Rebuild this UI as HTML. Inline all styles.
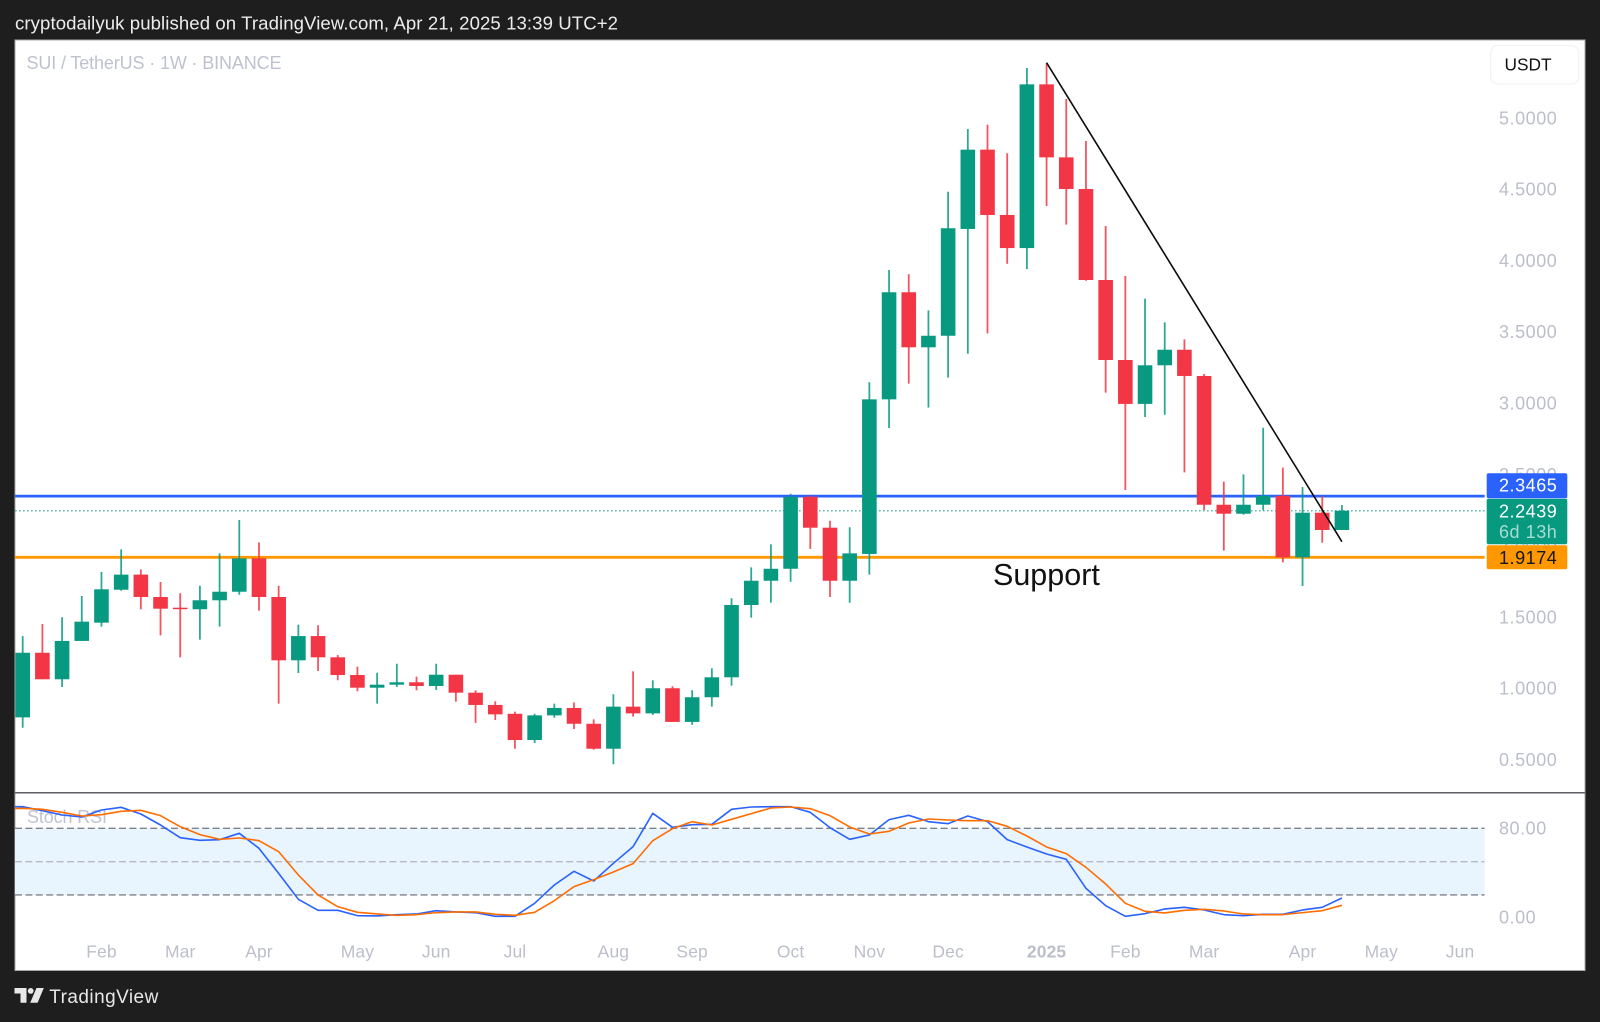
<!DOCTYPE html>
<html lang="en">
<head>
<meta charset="utf-8">
<title>SUI / TetherUS weekly chart</title>
<style>
  html, body { margin: 0; padding: 0; background: #1e1e1e; }
  svg { display: block; font-family: "Liberation Sans", sans-serif; }
  .tick { fill: #bcbfca; font-size: 18px; letter-spacing: .55px; }
  .time { fill: #bcbfca; font-size: 17.5px; letter-spacing: .1px; text-anchor: middle; }
</style>
</head>
<body>
<svg id="chart" width="1600" height="1022" viewBox="0 0 1600 1022" xmlns="http://www.w3.org/2000/svg">
  <defs>
    <clipPath id="plot-clip"><rect x="15" y="40" width="1470" height="931"></rect></clipPath>
  </defs>
  <rect x="0" y="0" width="1600" height="1022" fill="#1e1e1e"></rect>
  <text x="15" y="29.5" font-size="18.6" fill="#ececec" textLength="603" lengthAdjust="spacing">cryptodailyuk published on TradingView.com, Apr 21, 2025 13:39 UTC+2</text>
  <rect x="15" y="40" width="1570" height="930.5" fill="#ffffff" stroke="#a9a9a9" stroke-width="1"></rect>
  <line x1="15" x2="1585" y1="792.7" y2="792.7" stroke="#5d5f64" stroke-width="1.5"></line>
  <text x="26.5" y="69" font-size="18" fill="#bfc2ce" textLength="255" lengthAdjust="spacing">SUI / TetherUS · 1W · BINANCE</text>
  <g id="price-ticks"></g>
  <g id="stoch-pane" clip-path="url(#plot-clip)">
    <rect id="stoch-band" fill="#e8f4fe"></rect>
    <line id="stoch-upper" stroke="#7f828c" stroke-width="1.4" stroke-dasharray="7 3.4"></line>
    <line id="stoch-middle" stroke="#b6b9c1" stroke-width="1.4" stroke-dasharray="7 3.4"></line>
    <line id="stoch-lower" stroke="#7f828c" stroke-width="1.4" stroke-dasharray="7 3.4"></line>
    <text x="27" y="823" font-size="18" fill="#bfc2ce" textLength="80" lengthAdjust="spacing">Stoch RSI</text>
    <polyline id="stoch-k-line" fill="none" stroke="#2962ff" stroke-width="1.6" stroke-linejoin="round"></polyline>
    <polyline id="stoch-d-line" fill="none" stroke="#ff6d00" stroke-width="1.6" stroke-linejoin="round"></polyline>
  </g>
  <g id="stoch-ticks"></g>
  <g id="time-ticks"></g>
  <line id="resistance-line" stroke="#2962ff" stroke-width="2.8"></line>
  <line id="support-line" stroke="#ff9800" stroke-width="2.8"></line>
  <line id="last-price-line" stroke="#089981" stroke-opacity=".65" stroke-width="1.4" stroke-dasharray="1.6 2.4"></line>
  <g id="candles" clip-path="url(#plot-clip)"></g>
  <line id="trend-line" stroke="#0b0b0b" stroke-width="1.6"></line>
  <text x="993" y="585" font-size="30.5" fill="#111111">Support</text>
  <rect x="1490.7" y="45.5" width="88" height="38.5" rx="7" fill="#ffffff" stroke="#f0f2f7" stroke-width="1.2"></rect>
  <text x="1504.5" y="70.5" font-size="17.3" fill="#111111">USDT</text>
  <rect x="1486.7" y="473.3" width="80.6" height="25" rx="2" fill="#2962ff"></rect>
  <text id="resistance-text" class="tick" x="1499" y="491.7" style="fill:#ffffff"></text>
  <rect x="1486.7" y="498.7" width="80.6" height="45.6" rx="2" fill="#089981"></rect>
  <text id="last-price-text" class="tick" x="1499" y="517.3" style="fill:#ffffff"></text>
  <text class="tick" x="1499" y="538" style="fill:#a9dcd1">6d 13h</text>
  <rect x="1486.7" y="545.3" width="80.6" height="24" rx="2" fill="#ff9800"></rect>
  <text id="support-text" class="tick" x="1499" y="564" style="fill:#131722"></text>
  <g>
    <polygon points="14.5,988 26.5,988 26.5,1002.7 20.5,1002.7 20.5,993.5 14.5,993.5" fill="#e8e8e8"></polygon>
    <circle cx="30.7" cy="990.9" r="2.9" fill="#e8e8e8"></circle>
    <polygon points="36.5,988 43.8,988 37.6,1002.7 30.2,1002.7" fill="#e8e8e8"></polygon>
  </g>
  <text x="49.3" y="1003" font-size="19" fill="#e8e8e8" textLength="109" lengthAdjust="spacing">TradingView</text>
</svg>
<script>
const opens = [.795,1.248,1.062,1.331,1.459,1.690,1.796,1.639,1.564,1.553,1.616,1.676,1.910,1.639,1.195,1.365,1.216,1.092,1.003,1.024,1.041,1.015,1.094,.968,.882,.820,.636,.809,.861,.750,.575,.870,.823,.999,.763,.936,1.076,1.583,1.753,1.837,2.342,2.125,1.753,1.941,3.025,3.776,3.390,3.471,4.220,4.776,4.318,4.086,5.234,4.722,4.500,3.862,3.301,2.993,3.264,3.373,3.189,2.286,2.223,2.286,2.349,1.917,2.230,2.109];
const highs = [1.365,1.450,1.497,1.646,1.815,1.973,1.833,1.744,1.665,1.718,1.945,2.179,2.022,1.718,1.445,1.441,1.232,1.150,1.108,1.171,1.080,1.171,1.094,.985,.908,.835,.820,.891,.900,.781,.957,1.118,1.055,1.013,.985,1.139,1.630,1.847,2.008,2.363,2.352,2.174,2.128,3.145,3.932,3.902,3.649,4.481,4.921,4.951,4.751,5.349,5.384,5.131,4.837,4.241,3.890,3.731,3.565,3.446,3.203,2.448,2.499,2.826,2.546,2.410,2.349,2.284];
const lows = [.722,1.062,1.008,1.331,1.431,1.683,1.553,1.370,1.216,1.340,1.431,1.655,1.543,.891,1.106,1.120,1.055,.978,.891,1.008,.985,.987,.905,.756,.776,.575,.615,.792,.713,.568,.466,.800,.812,.763,.743,.870,1.017,1.494,1.599,1.746,1.976,1.639,1.599,1.796,2.824,3.135,2.967,3.177,3.345,3.488,3.976,3.939,4.381,4.250,3.857,3.072,2.389,2.901,2.917,2.513,2.249,1.964,2.216,2.247,1.882,1.716,2.020,2.109];
const closes = [1.248,1.062,1.331,1.466,1.693,1.796,1.639,1.557,1.557,1.616,1.676,1.910,1.639,1.195,1.365,1.216,1.092,1.003,1.024,1.041,1.015,1.094,.968,.882,.816,.636,.809,.861,.750,.575,.870,.823,.999,.763,.936,1.076,1.583,1.753,1.837,2.342,2.125,1.753,1.945,3.025,3.776,3.390,3.471,4.225,4.776,4.318,4.086,5.234,4.722,4.500,3.862,3.301,2.993,3.264,3.373,3.189,2.286,2.223,2.286,2.349,1.917,2.230,2.109,2.244];

// Stochastic RSI: the first value belongs to the bar just before the visible window.
const stochK = [99.5,99.5,95.9,92,90.2,96.5,98.9,92.9,83,71.6,69.2,69.8,75.5,62,39.5,16.1,6.2,6.2,1.4,1.1,2.3,2.9,5.9,4.7,4.1,.8,.8,12.5,29,41.3,32.6,48.5,63.5,93.5,80.9,83.3,83.6,97.1,99.2,99.5,99.5,94.4,80.6,70.1,74,87.8,91.7,86,84.2,91.1,86,69.8,63.2,56.9,52.1,26,10.4,.8,3.2,7.4,8.9,6.5,2.3,1.4,2.6,2.6,6.5,8.9,17.3];
const stochD = [97.4,98,97.1,94.4,91.1,92.3,95.3,96.2,91.4,81.5,74.3,70.1,71.3,68.9,59,38,20,9.5,4.4,2.9,1.7,2.3,4.1,4.7,4.7,2.6,1.7,4.4,14.9,27.5,33.8,40.7,48.2,68.9,79.7,86,83,88.1,93.2,98.3,99.2,97.7,91.4,81.2,74.9,77.3,84.8,88.4,87.5,86.9,86.9,81.8,73.1,63.2,57.2,44.9,29.9,12.5,5.3,3.8,6.2,7.1,5.6,2.9,2.3,2.3,4.1,5.9,10.7];

const priceTicks = [5, 4.5, 4, 3.5, 3, 2.5, 2, 1.5, 1, 0.5];
const stochTicks = [80, 0];
const stochBands = [80, 50, 20];
const timeLabels = ["Feb","Mar","Apr","May","Jun","Jul","Aug","Sep","Oct","Nov","Dec","2025","Feb","Mar","Apr","May","Jun"];
const timeBars = [4,8,12,17,21,25,30,34,39,43,47,52,56,60,65,69,73];
const resistancePrice = [2.3465];
const supportPrice = [1.9174];
const lastPrice = [2.2439];
const trendBars = [52, 67];
const trendPrices = [5.386, 2.027];

const SVGNS = "http://www.w3.org/2000/svg";
const xOf = function (bar) { return 22.7 + bar * 19.69; };
const yOfPrice = function (price) { return 557.3 - (price - 1.9174) * 142.6; };
const yOfStoch = function (value) { return 917.2 - value * 1.111; };
const PLOT_LEFT = 15;
const PLOT_RIGHT = 1484.6;
const BODY_WIDTH = 14.6;

function make(tag, attrs, parent) {
  const el = document.createElementNS(SVGNS, tag);
  Object.keys(attrs).forEach(function (k) { el.setAttribute(k, attrs[k]); });
  parent.appendChild(el);
  return el;
}

function setLine(id, x1, x2, y1, y2) {
  const el = document.getElementById(id);
  el.setAttribute("x1", x1);
  el.setAttribute("x2", x2);
  el.setAttribute("y1", y1);
  el.setAttribute("y2", y2);
}

const priceAxis = document.getElementById("price-ticks");
priceTicks.forEach(function (p) {
  const t = make("text", { class: "tick", x: 1499, y: yOfPrice(p) + 6.6 }, priceAxis);
  
  
  t.textContent = p.toFixed(4);
});

const stochAxis = document.getElementById("stoch-ticks");
stochTicks.forEach(function (v) {
  const t = make("text", { class: "tick", x: 1499, y: yOfStoch(v) + 6.2 }, stochAxis);
  
  
  t.textContent = v.toFixed(2);
});

const timeAxis = document.getElementById("time-ticks");
timeLabels.forEach(function (label, i) {
  const t = make("text", { class: "time", x: xOf(timeBars[i]), y: 957.6 }, timeAxis);
  
  
  if (label === "2025") { t.setAttribute("font-weight", "700"); }
  t.textContent = label;
});

const band = document.getElementById("stoch-band");
band.setAttribute("x", PLOT_LEFT);
band.setAttribute("y", yOfStoch(stochBands[0]));
band.setAttribute("width", PLOT_RIGHT - PLOT_LEFT);
band.setAttribute("height", yOfStoch(stochBands[2]) - yOfStoch(stochBands[0]));
setLine("stoch-upper", PLOT_LEFT, PLOT_RIGHT, yOfStoch(stochBands[0]), yOfStoch(stochBands[0]));
setLine("stoch-middle", PLOT_LEFT, PLOT_RIGHT, yOfStoch(stochBands[1]), yOfStoch(stochBands[1]));
setLine("stoch-lower", PLOT_LEFT, PLOT_RIGHT, yOfStoch(stochBands[2]), yOfStoch(stochBands[2]));

function stochPoints(series) {
  return series.map(function (v, i) {
    return xOf(i - 1).toFixed(2) + "," + yOfStoch(v).toFixed(2);
  }).join(" ");
}
document.getElementById("stoch-k-line").setAttribute("points", stochPoints(stochK));
document.getElementById("stoch-d-line").setAttribute("points", stochPoints(stochD));

setLine("resistance-line", PLOT_LEFT, PLOT_RIGHT, yOfPrice(resistancePrice[0]), yOfPrice(resistancePrice[0]));
setLine("support-line", PLOT_LEFT, PLOT_RIGHT, yOfPrice(supportPrice[0]), yOfPrice(supportPrice[0]));
setLine("last-price-line", PLOT_LEFT, PLOT_RIGHT, yOfPrice(lastPrice[0]), yOfPrice(lastPrice[0]));
document.getElementById("resistance-text").textContent = resistancePrice[0].toFixed(4);
document.getElementById("support-text").textContent = supportPrice[0].toFixed(4);
document.getElementById("last-price-text").textContent = lastPrice[0].toFixed(4);

const candleLayer = document.getElementById("candles");
opens.forEach(function (open, i) {
  const up = closes[i] >= open;
  const color = up ? "#089981" : "#f23645";
  const cx = xOf(i);
  const top = yOfPrice(Math.max(open, closes[i]));
  const bottom = yOfPrice(Math.min(open, closes[i]));
  const g = make("g", {}, candleLayer);
  
  
  const wick = make("line", { x1: cx, x2: cx, y1: yOfPrice(highs[i]), y2: yOfPrice(lows[i]), stroke: color, "stroke-width": 1.8, "stroke-opacity": .85 }, g);
  
  
  const body = make("rect", { x: cx - BODY_WIDTH / 2, y: top, width: BODY_WIDTH, height: Math.max(bottom - top, 1.5), fill: color }, g);
  
  
});

setLine("trend-line", xOf(trendBars[0]), xOf(trendBars[1]), yOfPrice(trendPrices[0]), yOfPrice(trendPrices[1]));
</script>
</body>
</html>
